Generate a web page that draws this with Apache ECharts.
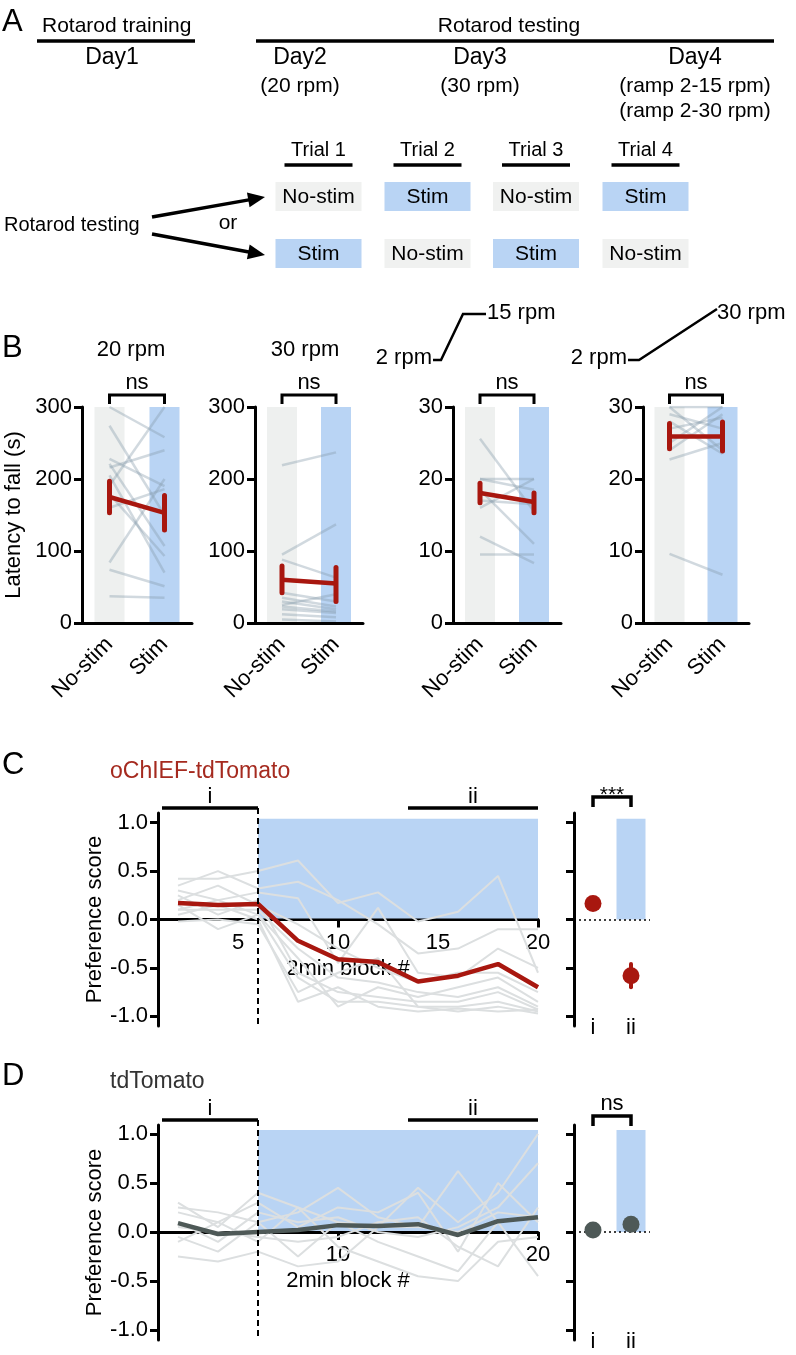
<!DOCTYPE html>
<html><head><meta charset="utf-8">
<script src="https://cdn.jsdelivr.net/npm/echarts@6/dist/echarts.min.js"></script>
<style>html,body{margin:0;padding:0;background:#fff}#c{width:796px;height:1355px}</style>
</head><body><div id="c"></div>
<script>
// ================= DATA =================
// Panel A (protocol)
const trialLabels = ['Trial 1', 'Trial 2', 'Trial 3', 'Trial 4'];
const orderRow1 = ['No-stim', 'Stim', 'No-stim', 'Stim'];
const orderRow2 = ['Stim', 'No-stim', 'Stim', 'No-stim'];
const dayLabels = ['Day2', 'Day3', 'Day4'];
const daySpeeds = [['(20 rpm)'], ['(30 rpm)'], ['(ramp 2-15 rpm)', '(ramp 2-30 rpm)']];

// Panel B (latency to fall)
const bCategories = ['No-stim', 'Stim'];
const bYMax = [300, 300, 30, 30];
const bYInterval = [100, 100, 10, 10];
const b1Pairs = [[300, 258], [274, 150], [228, 190], [221, 107], [216, 240], [191, 300], [179, 93], [84, 200], [74, 51], [37, 35], [160, 186], [205, 70]];
const b1Mean = [175, 153];
const b1Err = [[153, 197], [129, 177]];
const b2Pairs = [[219, 237], [95, 137], [88, 63], [42, 30], [35, 23], [30, 19], [25, 40], [23, 16], [19, 14], [12, 8], [5, 2]];
const b2Mean = [60, 55];
const b2Err = [[42, 79], [30, 77]];
const b3Pairs = [[25.6, 15.5], [20, 20], [20, 18.5], [16, 20], [18.5, 11], [12, 8.3], [9.5, 9.5], [17, 16.5]];
const b3Mean = [18.05, 16.8];
const b3Err = [[16.7, 19.4], [15.3, 18.05]];
const b4Pairs = [[30, 24], [30, 30], [29, 27], [25, 30], [24, 29], [22.7, 25], [28, 23.5], [9.6, 6.7], [27, 28.5]];
const b4Mean = [25.9, 25.9];
const b4Err = [[24.2, 27.7], [23.9, 27.9]];

// Panels C / D (preference score per 2-min block)
const blocks = [2, 4, 6, 8, 10, 12, 14, 16, 18, 20];
const cMean = [0.17, 0.15, 0.16, -0.22, -0.41, -0.44, -0.64, -0.58, -0.46, -0.70];
const cMice = [
  [0.42, 0.42, 0.50, 0.61, 0.17, 0.28, -0.02, 0.08, 0.45, -0.55],
  [0.35, 0.50, 0.32, 0.39, 0.20, -0.05, -0.35, -0.30, -0.10, -0.10],
  [0.30, 0.20, 0.28, 0.22, -0.45, 0.12, -0.55, -0.60, -0.30, -0.50],
  [0.20, 0.35, 0.15, -0.05, -0.30, -0.50, -0.65, -0.55, -0.55, -0.75],
  [0.10, 0.10, 0.10, -0.30, -0.60, -0.65, -0.75, -0.80, -0.70, -0.90],
  [0.25, 0.05, 0.20, -0.55, -0.75, -0.80, -0.85, -0.85, -0.75, -0.93],
  [0.15, -0.10, 0.05, -0.60, -0.85, -0.85, -0.90, -0.90, -0.85, -0.95],
  [0.05, 0.15, 0.00, -0.85, -0.70, -0.90, -0.95, -0.92, -0.95, -0.93],
  [-0.02, 0.00, -0.05, -0.75, -0.55, -0.40, -0.90, -0.95, -0.90, -0.97],
  [0.10, 0.20, 0.05, -0.40, -0.90, -0.70, -0.80, -0.70, -0.60, -0.85]
];
const dMean = [0.09, -0.02, 0.00, 0.02, 0.07, 0.06, 0.08, -0.03, 0.11, 0.15];
const dMice = [
  [0.30, 0.05, 0.40, 0.25, 0.10, 0.05, 0.45, 0.10, 0.40, 1.00],
  [0.25, 0.20, 0.10, 0.20, 0.45, 0.15, 0.05, 0.62, 0.10, 0.15],
  [0.20, 0.10, 0.30, 0.05, 0.25, 0.20, 0.40, -0.20, 0.50, 0.10],
  [0.10, -0.10, 0.20, 0.10, 0.15, 0.00, -0.05, 0.05, 0.25, 0.70],
  [0.05, 0.00, -0.05, -0.10, -0.05, 0.10, 0.15, -0.15, -0.35, 0.25],
  [-0.05, -0.20, 0.10, -0.25, 0.10, -0.10, -0.25, -0.40, 0.10, -0.45],
  [-0.10, 0.10, -0.10, 0.25, -0.15, -0.30, -0.45, -0.50, -0.10, -0.05],
  [-0.25, -0.30, -0.20, -0.35, -0.30, 0.05, 0.05, 0.00, 0.20, 0.15]
];
const stimWindow = [6, 20];
const stimTop = 1.04;
const sectionI = [1.2, 6];
const sectionII = [13.5, 20];
const epochCats = ['i', 'ii'];
const cEpochMean = [0.165, -0.58];
const cEpochErr = [[0.14, 0.19], [-0.70, -0.46]];
const dEpochMean = [0.02, 0.08];
const dEpochErr = [[0.00, 0.04], [0.06, 0.10]];
const prefTicks = [-1, -0.5, 0, 0.5, 1];
const cXLabels = [5, 10, 15, 20];
const dXLabels = [10, 20];
const blockTicks = [10, 20];

// ================= STYLE =================
const FONT = '"Liberation Sans", Arial, Helvetica, sans-serif';
const INK = '#000';
const RED = '#a8170f';
const DARK = '#4e5957';
const BLUE = '#b9d4f4';
const GRAYBAR = '#eef0ef';
const BOXGRAY = '#f0f1f0';
const BLINE = 'rgba(135,155,170,0.38)';
const CLINE = '#dcdfe0';

const chart = echarts.init(document.getElementById('c'));

const grids = [
  {left: 82, top: 407, width: 110, height: 216},
  {left: 255, top: 407, width: 108, height: 216},
  {left: 453, top: 407, width: 108, height: 216},
  {left: 643, top: 407, width: 106, height: 216},
  {left: 158, top: 813, width: 380, height: 213},
  {left: 574, top: 813, width: 76, height: 213},
  {left: 158, top: 1125, width: 380, height: 215},
  {left: 574, top: 1125, width: 76, height: 215}
];
const prefRange = {4: [-1.1, 1.1], 5: [-1.1, 1.1], 6: [-1.1, 1.09], 7: [-1.1, 1.09]};

const axisLineStyle = {color: INK, width: 3};
const tickStyle = {color: INK, width: 3};
const labelBase = {color: INK, fontSize: 22, fontFamily: FONT};

const xAxes = [], yAxes = [], series = [];

// ----- Panel B -----
const bPairs = [b1Pairs, b2Pairs, b3Pairs, b4Pairs];
const bMeans = [b1Mean, b2Mean, b3Mean, b4Mean];
const bErrs = [b1Err, b2Err, b3Err, b4Err];

function errSeries(xi, yi, errs, color, width) {
  return {
    type: 'custom', xAxisIndex: xi, yAxisIndex: yi, z: 6, silent: true,
    data: errs.map((e, k) => [k, e[0], e[1]]),
    encode: {x: 0, y: [1, 2]},
    renderItem: (params, api) => {
      const p1 = api.coord([api.value(0), api.value(1)]);
      const p2 = api.coord([api.value(0), api.value(2)]);
      return {type: 'line', shape: {x1: p1[0], y1: p1[1], x2: p2[0], y2: p2[1]},
        style: {stroke: color, lineWidth: width, lineCap: 'round'}};
    }
  };
}

for (let i = 0; i < 4; i++) {
  xAxes.push({
    gridIndex: i, type: 'category', data: bCategories, boundaryGap: true, z: 5,
    axisLine: {onZero: false, lineStyle: axisLineStyle},
    axisTick: {alignWithLabel: true, length: 8, lineStyle: tickStyle},
    axisLabel: Object.assign({rotate: 45, margin: 18, interval: 0}, labelBase)
  });
  yAxes.push({
    gridIndex: i, type: 'value', min: 0, max: bYMax[i], interval: bYInterval[i],
    splitLine: {show: false},
    axisLine: {show: true, lineStyle: axisLineStyle},
    axisTick: {show: true, length: 8, lineStyle: tickStyle},
    axisLabel: Object.assign({margin: 10}, labelBase),
    name: i === 0 ? 'Latency to fall (s)' : '',
    nameLocation: 'middle', nameGap: 57,
    nameTextStyle: {color: INK, fontSize: 22, fontFamily: FONT}
  });
  series.push({
    type: 'bar', xAxisIndex: i, yAxisIndex: i, barWidth: 30, silent: true, z: 1,
    data: [{value: bYMax[i], itemStyle: {color: GRAYBAR}}, {value: bYMax[i], itemStyle: {color: BLUE}}]
  });
  bPairs[i].forEach(p => series.push({
    type: 'line', xAxisIndex: i, yAxisIndex: i, data: p, symbol: 'none', silent: true, z: 2,
    lineStyle: {color: BLINE, width: 2.5}
  }));
  series.push({
    type: 'line', xAxisIndex: i, yAxisIndex: i, data: bMeans[i], symbol: 'none', silent: true, z: 5,
    lineStyle: {color: RED, width: 4.5}
  });
  series.push(errSeries(i, i, bErrs[i], RED, 5));
}

// ----- Panels C / D main -----
function prefYAxis(gi, withLabels) {
  return {
    gridIndex: gi, type: 'value', min: prefRange[gi][0], max: prefRange[gi][1],
    splitLine: {show: false},
    axisLine: {show: true, onZero: false, lineStyle: axisLineStyle},
    axisTick: {show: true, length: 8, lineStyle: tickStyle, customValues: prefTicks},
    axisLabel: Object.assign({show: withLabels, margin: 10, customValues: prefTicks,
      formatter: v => Number(v).toFixed(1)}, labelBase),
    name: withLabels ? 'Preference score' : '',
    nameLocation: 'middle', nameGap: 50,
    nameTextStyle: {color: INK, fontSize: 22, fontFamily: FONT}
  };
}
function blockXAxis(gi, labels) {
  // place the axis on the zero line of the preference scale
  const r = prefRange[gi];
  const zeroUp = grids[gi].height * (0 - r[0]) / (r[1] - r[0]);
  return {
    gridIndex: gi, type: 'value', min: 1, max: 20, splitLine: {show: false},
    position: 'bottom', offset: -zeroUp,
    axisLine: {onZero: false, lineStyle: axisLineStyle},
    axisTick: {length: 8, lineStyle: tickStyle, customValues: blockTicks},
    axisLabel: Object.assign({margin: 12, customValues: labels}, labelBase),
    name: '2min block #', nameLocation: 'middle', nameGap: 38,
    nameTextStyle: {color: INK, fontSize: 22, fontFamily: FONT}
  };
}
function epochXAxis(gi) {
  return {
    gridIndex: gi, type: 'category', data: epochCats, boundaryGap: true,
    axisLine: {show: false, onZero: false}, axisTick: {show: false},
    axisLabel: Object.assign({margin: 2, verticalAlign: 'middle', interval: 0}, labelBase)
  };
}

xAxes.push(blockXAxis(4, cXLabels)); yAxes.push(prefYAxis(4, true));
xAxes.push(epochXAxis(5)); yAxes.push(prefYAxis(5, false));
xAxes.push(blockXAxis(6, dXLabels)); yAxes.push(prefYAxis(6, true));
xAxes.push(epochXAxis(7)); yAxes.push(prefYAxis(7, false));

function stimRect(ai) {
  return {
    type: 'custom', xAxisIndex: ai, yAxisIndex: ai, z: 1, silent: true,
    data: [[stimWindow[0], stimWindow[1], 0, stimTop]],
    encode: {x: [0, 1], y: [2, 3]},
    renderItem: (params, api) => {
      const a = api.coord([api.value(0), api.value(3)]);
      const b = api.coord([api.value(1), api.value(2)]);
      return {type: 'rect', shape: {x: a[0], y: a[1], width: b[0] - a[0], height: b[1] - a[1] - 1}, style: {fill: BLUE}};
    }
  };
}
function mainPanel(ai, mice, mean, meanColor) {
  series.push(stimRect(ai));
  mice.forEach(m => series.push({
    type: 'line', xAxisIndex: ai, yAxisIndex: ai, symbol: 'none', silent: true, z: 2,
    data: blocks.map((b, k) => [b, m[k]]), lineStyle: {color: CLINE, width: 2}
  }));
  series.push({
    type: 'line', xAxisIndex: ai, yAxisIndex: ai, symbol: 'none', silent: true, z: 5,
    data: blocks.map((b, k) => [b, mean[k]]), lineStyle: {color: meanColor, width: 4.5}
  });
}
function epochPanel(ai, mean, err, color) {
  series.push({
    type: 'bar', xAxisIndex: ai, yAxisIndex: ai, barWidth: 29, silent: true, z: 1,
    data: ['-', stimTop], itemStyle: {color: BLUE}
  });
  series.push(errSeries(ai, ai, err, color, 4));
  series.push({
    type: 'scatter', xAxisIndex: ai, yAxisIndex: ai, symbolSize: 17, silent: true, z: 7,
    data: mean, itemStyle: {color: color, opacity: 1},
    markLine: {silent: true, symbol: 'none', label: {show: false},
      lineStyle: {type: [2, 3], color: INK, width: 1.5}, data: [{yAxis: 0}]}
  });
}
mainPanel(4, cMice, cMean, RED);
epochPanel(5, cEpochMean, cEpochErr, RED);
mainPanel(6, dMice, dMean, DARK);
epochPanel(7, dEpochMean, dEpochErr, DARK);

chart.setOption({
  animation: false,
  backgroundColor: '#fff',
  textStyle: {fontFamily: FONT},
  grid: grids,
  xAxis: xAxes,
  yAxis: yAxes,
  series: series
});

// ================= ANNOTATIONS =================
const G = [];
function txt(x, y, s, size, opt) {
  G.push({type: 'text', x: x, y: y, z: 100, silent: true,
    style: Object.assign({text: s, fill: INK, fontSize: size, fontFamily: FONT, align: 'center', verticalAlign: 'middle'}, opt || {})});
}
function seg(points, w, opt) {
  G.push({type: 'polyline', z: 100, silent: true, shape: {points: points},
    style: Object.assign({stroke: INK, lineWidth: w || 3, fill: null}, opt || {})});
}
function box(x, y, w, h, fill) {
  G.push({type: 'rect', z: 90, silent: true, shape: {x: x, y: y, width: w, height: h}, style: {fill: fill}});
}
function arrow(x1, y1, x2, y2) {
  const ang = Math.atan2(y2 - y1, x2 - x1), L = 17, W = 7.5;
  const bx = x2 - L * Math.cos(ang), by = y2 - L * Math.sin(ang);
  const nx = -Math.sin(ang), ny = Math.cos(ang);
  seg([[x1, y1], [bx + 2 * Math.cos(ang), by + 2 * Math.sin(ang)]], 3.5);
  G.push({type: 'polygon', z: 100, silent: true,
    shape: {points: [[x2, y2], [bx + nx * W, by + ny * W], [bx - nx * W, by - ny * W]]}, style: {fill: INK}});
}
function px(ai, v) { return chart.convertToPixel({xAxisIndex: ai, yAxisIndex: ai}, v); }

// panel letters
txt(2, 22, 'A', 31, {align: 'left'});
txt(2, 348, 'B', 31, {align: 'left'});
txt(2, 765, 'C', 31, {align: 'left'});
txt(2, 1076, 'D', 31, {align: 'left'});

// ---- Panel A ----
txt(42, 26, 'Rotarod training', 21, {align: 'left'});
seg([[37, 41], [195, 41]], 3.5);
txt(112, 58, 'Day1', 23);
txt(509, 26, 'Rotarod testing', 21);
seg([[256, 41], [774, 41]], 3.5);
const dayX = [300, 480, 695];
dayLabels.forEach((d, k) => {
  txt(dayX[k], 58, d, 23);
  daySpeeds[k].forEach((s, j) => txt(dayX[k], 86 + j * 25, s, 21));
});
const colX = [318.5, 427.5, 536, 645.5];
trialLabels.forEach((t, k) => {
  txt(colX[k], 150, t, 20);
  seg([[colX[k] - 34, 165], [colX[k] + 34, 165]], 3.5);
});
[orderRow1, orderRow2].forEach((row, r) => {
  const y0 = r === 0 ? 182 : 239;
  row.forEach((s, k) => {
    box(colX[k] - 43, y0, 86, 29, s === 'Stim' ? BLUE : BOXGRAY);
    txt(colX[k], y0 + 15, s, 21);
  });
});
txt(4, 225, 'Rotarod testing', 20, {align: 'left'});
txt(228, 223, 'or', 21);
arrow(152, 217, 265, 197);
arrow(152, 234, 265, 255);

// ---- Panel B annotations ----
txt(131, 350, '20 rpm', 22);
txt(305, 350, '30 rpm', 22);
for (let i = 0; i < 4; i++) {
  const a = px(i, [0, 0])[0], b = px(i, [1, 0])[0];
  seg([[a, 404], [a, 395], [b, 395], [b, 404]], 3);
  txt((a + b) / 2, 383, 'ns', 22);
}
// ramp sketches
txt(432, 358, '2 rpm', 22, {align: 'right'});
seg([[433, 360], [441, 360], [463, 314], [486, 314]], 2.5);
txt(487, 313, '15 rpm', 22, {align: 'left'});
txt(627, 358, '2 rpm', 22, {align: 'right'});
seg([[628, 360], [639, 360], [717, 309]], 2.5);
txt(717, 313, '30 rpm', 22, {align: 'left'});

// ---- Panels C / D annotations ----
function sections(ai, lineY) {
  const i0 = px(ai, [sectionI[0], 0])[0], i1 = px(ai, [sectionI[1], 0])[0];
  const j0 = px(ai, [sectionII[0], 0])[0], j1 = px(ai, [sectionII[1], 0])[0];
  seg([[i0, lineY], [i1, lineY]], 3.5);
  seg([[j0, lineY], [j1, lineY]], 3.5);
  txt((i0 + i1) / 2, lineY - 11, 'i', 22);
  txt((j0 + j1) / 2, lineY - 11, 'ii', 22);
  const bottom = px(ai, [stimWindow[0], prefRange[ai][0]])[1];
  seg([[i1, lineY], [i1, bottom]], 2, {lineDash: [6, 4]});
}
sections(4, 808);
sections(6, 1120);
txt(110, 772, 'oChIEF-tdTomato', 23, {align: 'left', fill: '#a52a1f'});
txt(110, 1082, 'tdTomato', 23, {align: 'left', fill: '#333'});

function epochBracket(ai, y, label, size, ty) {
  const a = px(ai, [0, 0])[0], b = px(ai, [1, 0])[0];
  seg([[a, y + 10], [a, y], [b, y], [b, y + 10]], 3.5);
  txt((a + b) / 2, ty, label, size);
}
epochBracket(5, 797, '***', 21, 795);
epochBracket(7, 1116, 'ns', 22, 1104);

chart.setOption({graphic: {elements: G}});
</script>
</body></html>
